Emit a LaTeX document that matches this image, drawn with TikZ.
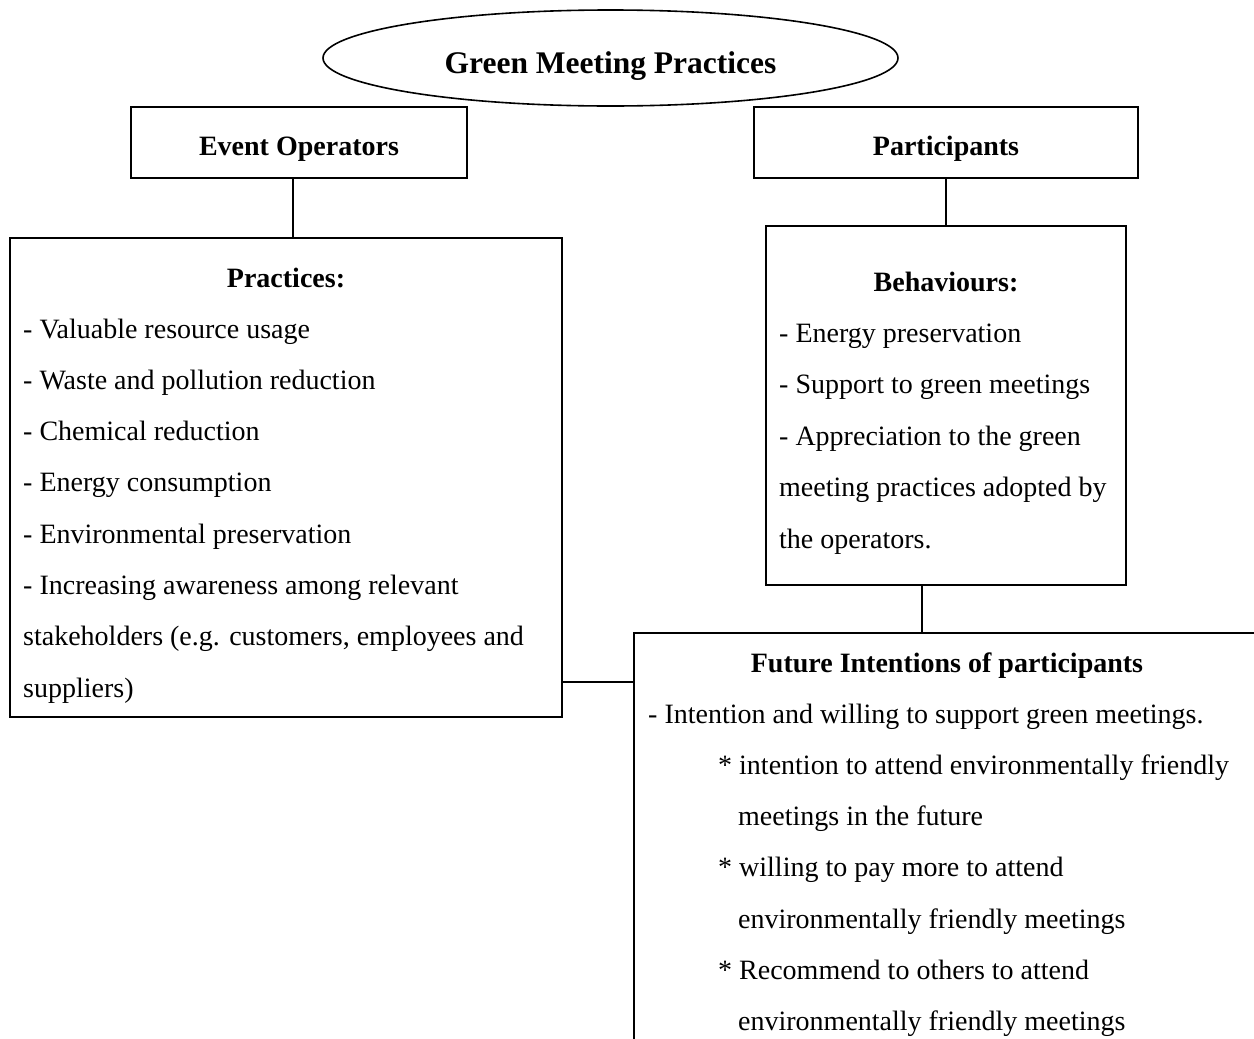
\documentclass[tikz,border=0pt]{standalone}
\usepackage{fontspec}
\setmainfont{Liberation Serif}
\usetikzlibrary{shapes.geometric}
\begin{document}
\begin{tikzpicture}[x=1pt,y=-1pt,
  box/.style={draw,line width=1.6pt,rectangle,inner sep=0pt},
  txt/.style={anchor=base west,inner sep=0pt,font=\fontsize{28}{34}\selectfont},
  head/.style={anchor=base,inner sep=0pt,font=\fontsize{28}{34}\selectfont\bfseries},
  conn/.style={line width=1.6pt}]
\path[use as bounding box] (0,0) rectangle (1254,1039);
\clip (0,0) rectangle (1254,1039);

% title ellipse
\node[ellipse,draw,line width=1.6pt,minimum width=575pt,minimum height=96pt,inner sep=0pt] (title) at (610.5,58) {};
\node[anchor=base,inner sep=0pt,font=\fontsize{31.5}{36}\selectfont\bfseries] (titletxt) at (610.5,73) {Green Meeting Practices};

% boxes
\node[box,minimum width=336pt,minimum height=71pt] (evt) at (299,142.5) {};
\node[head] (evttxt) at (299,155) {Event Operators};
\node[box,minimum width=384pt,minimum height=71pt] (part) at (946,142.5) {};
\node[head] (parttxt) at (946,155) {Participants};

\node[box,minimum width=552pt,minimum height=479pt] (prac) at (286,477.5) {};
\node[box,minimum width=360pt,minimum height=359pt] (beh) at (946,405.5) {};
\node[box,minimum width=630pt,minimum height=416pt] (fut) at (949,841) {};

% practices text
\node[head] (ph) at (286,287) {Practices:};
\node[txt] (p1) at (23,338) {- Valuable resource usage};
\node[txt] (p2) at (23,389.3) {- Waste and pollution reduction};
\node[txt] (p3) at (23,440.6) {- Chemical reduction};
\node[txt] (p4) at (23,491.9) {- Energy consumption};
\node[txt] (p5) at (23,543.2) {- Environmental preservation};
\node[txt] (p6) at (23,594.5) {- Increasing awareness among relevant};
\node[txt] (p7) at (23,645.8) {stakeholders (e.g. customers, employees and};
\node[txt] (p8) at (23,697.1) {suppliers)};

% behaviours text
\node[head] (bh) at (946,291) {Behaviours:};
\node[txt] (b1) at (779,342) {- Energy preservation};
\node[txt] (b2) at (779,393.5) {- Support to green meetings};
\node[txt] (b3) at (779,445) {- Appreciation to the green};
\node[txt] (b4) at (779,496.5) {meeting practices adopted by};
\node[txt] (b5) at (779,548) {the operators.};

% future intentions text
\node[head] (fh) at (947,672) {Future Intentions of participants};
\node[txt] (f1) at (648,723) {- Intention and willing to support green meetings.};
\node[txt] (f2) at (718,774.3) {* intention to attend environmentally friendly};
\node[txt] (f3) at (738,825.6) {meetings in the future};
\node[txt] (f4) at (718,876.9) {* willing to pay more to attend};
\node[txt] (f5) at (738,928.2) {environmentally friendly meetings};
\node[txt] (f6) at (718,979.5) {* Recommend to others to attend};
\node[txt] (f7) at (738,1030.8) {environmentally friendly meetings};

% connectors
\draw[conn] ([xshift=-6pt]evt.south) -- ([xshift=-6pt]evt.south |- prac.north);
\draw[conn] (part.south) -- (beh.north);
\draw[conn] ([xshift=-24pt]beh.south) -- ([xshift=-24pt]beh.south |- fut.north);
\coordinate (pj) at ([yshift=36pt]prac.south east);
\draw[conn] (pj) -- (pj -| fut.west);
\end{tikzpicture}
\end{document}
